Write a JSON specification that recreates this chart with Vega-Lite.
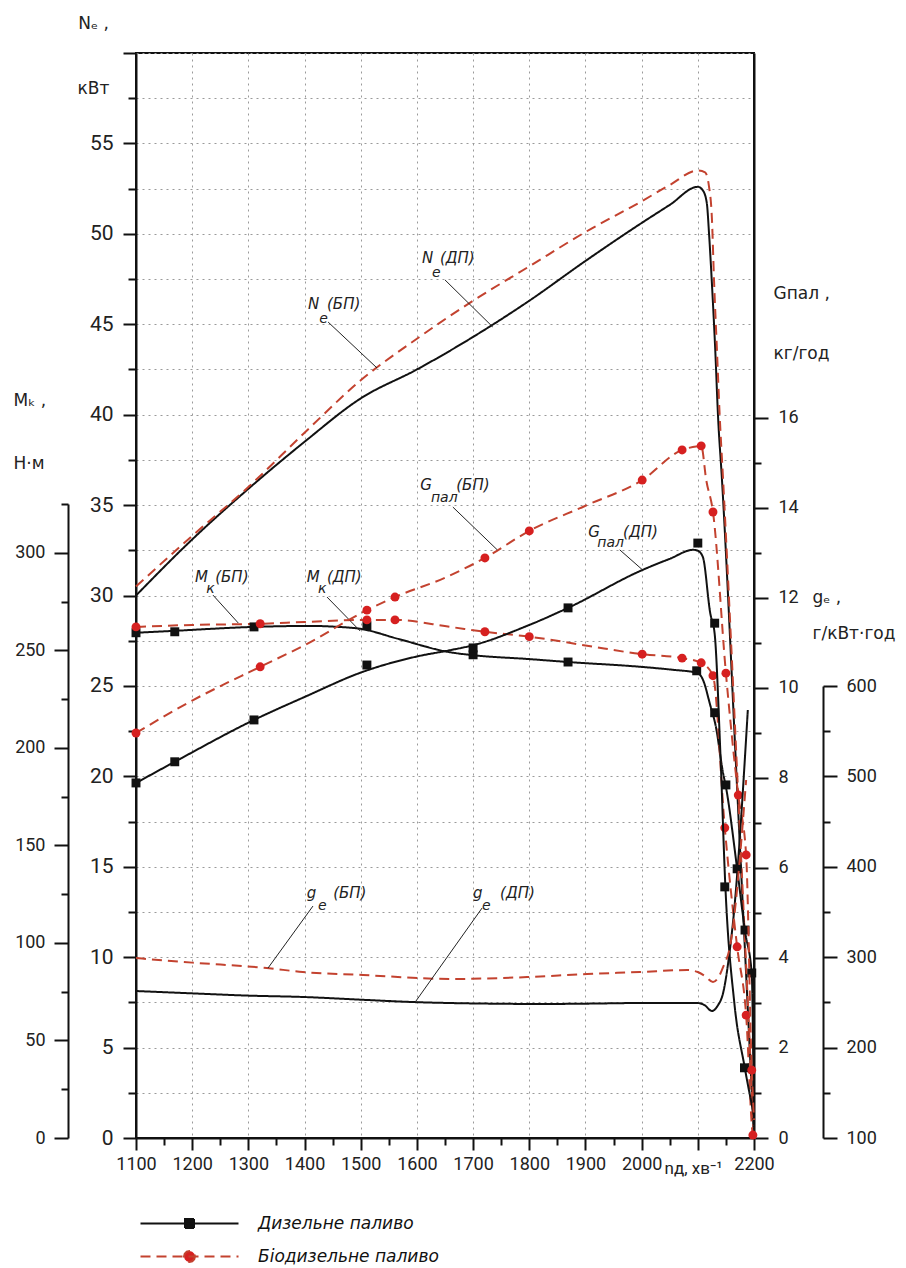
{
"$schema":"https://vega.github.io/schema/vega-lite/v6.json",
"width":618,"height":1085,
"autosize":{"type":"none"},
"padding":{"left":136,"top":53,"right":152,"bottom":130},
"background":"white",
"config":{
 "view":{"stroke":"#111","strokeWidth":2},
 "axis":{"domainColor":"#111","domainWidth":2,"tickColor":"#111","tickWidth":2,"labelFont":"Roboto","labelColor":"#222","labelOverlap":false,"labelFlush":false,"labelBound":false,"titleFont":"DejaVu Sans","titleFontWeight":"normal","titleColor":"#222","gridColor":"#9a9a9a","gridDash":[2,4],"gridWidth":1,"format":"d"}
},
"datasets":{
 "dummy":[{"fuel":"Дизельне паливо","rpm":1100,"v":0},{"fuel":"Біодизельне паливо","rpm":1100,"v":0}],
 "ne":[
  {"fuel":"Дизельне паливо","rpm":1100,"v":30.0},{"fuel":"Дизельне паливо","rpm":1200,"v":33.1},{"fuel":"Дизельне паливо","rpm":1300,"v":35.9},{"fuel":"Дизельне паливо","rpm":1400,"v":38.5},{"fuel":"Дизельне паливо","rpm":1500,"v":40.9},{"fuel":"Дизельне паливо","rpm":1600,"v":42.5},{"fuel":"Дизельне паливо","rpm":1700,"v":44.3},{"fuel":"Дизельне паливо","rpm":1800,"v":46.3},{"fuel":"Дизельне паливо","rpm":1900,"v":48.5},{"fuel":"Дизельне паливо","rpm":2000,"v":50.6},{"fuel":"Дизельне паливо","rpm":2050,"v":51.6},{"fuel":"Дизельне паливо","rpm":2100,"v":52.6},{"fuel":"Дизельне паливо","rpm":2109,"v":52.4},{"fuel":"Дизельне паливо","rpm":2116,"v":51.7},{"fuel":"Дизельне паливо","rpm":2120,"v":50.0},{"fuel":"Дизельне паливо","rpm":2125,"v":47.3},{"fuel":"Дизельне паливо","rpm":2131,"v":43.6},{"fuel":"Дизельне паливо","rpm":2136,"v":39.9},{"fuel":"Дизельне паливо","rpm":2143,"v":36.4},{"fuel":"Дизельне паливо","rpm":2170,"v":19.3},{"fuel":"Дизельне паливо","rpm":2200,"v":0},
  {"fuel":"Біодизельне паливо","rpm":1100,"v":30.5},{"fuel":"Біодизельне паливо","rpm":1200,"v":33.3},{"fuel":"Біодизельне паливо","rpm":1300,"v":36.0},{"fuel":"Біодизельне паливо","rpm":1400,"v":39.0},{"fuel":"Біодизельне паливо","rpm":1500,"v":41.9},{"fuel":"Біодизельне паливо","rpm":1600,"v":44.2},{"fuel":"Біодизельне паливо","rpm":1700,"v":46.3},{"fuel":"Біодизельне паливо","rpm":1800,"v":48.2},{"fuel":"Біодизельне паливо","rpm":1900,"v":50.1},{"fuel":"Біодизельне паливо","rpm":2000,"v":51.8},{"fuel":"Біодизельне паливо","rpm":2050,"v":52.7},{"fuel":"Біодизельне паливо","rpm":2100,"v":53.5},{"fuel":"Біодизельне паливо","rpm":2113,"v":53.4},{"fuel":"Біодизельне паливо","rpm":2120,"v":52.6},{"fuel":"Біодизельне паливо","rpm":2125,"v":50.9},{"fuel":"Біодизельне паливо","rpm":2129,"v":47.3},{"fuel":"Біодизельне паливо","rpm":2134,"v":43.6},{"fuel":"Біодизельне паливо","rpm":2139,"v":39.9},{"fuel":"Біодизельне паливо","rpm":2145,"v":36.4},{"fuel":"Біодизельне паливо","rpm":2172,"v":18.9},{"fuel":"Біодизельне паливо","rpm":2200,"v":0}
 ],
 "mk":[
  {"fuel":"Дизельне паливо","rpm":1100,"v":259},{"fuel":"Дизельне паливо","rpm":1169,"v":260},{"fuel":"Дизельне паливо","rpm":1310,"v":262},{"fuel":"Дизельне паливо","rpm":1410,"v":262.5},{"fuel":"Дизельне паливо","rpm":1460,"v":262},{"fuel":"Дизельне паливо","rpm":1500,"v":261},{"fuel":"Дизельне паливо","rpm":1565,"v":256},{"fuel":"Дизельне паливо","rpm":1659,"v":249},{"fuel":"Дизельне паливо","rpm":1700,"v":247.5},{"fuel":"Дизельне паливо","rpm":1800,"v":245.5},{"fuel":"Дизельне паливо","rpm":1869,"v":244},{"fuel":"Дизельне паливо","rpm":2000,"v":241.5},{"fuel":"Дизельне паливо","rpm":2056,"v":240},{"fuel":"Дизельне паливо","rpm":2098,"v":238.5},{"fuel":"Дизельне паливо","rpm":2109,"v":235},{"fuel":"Дизельне паливо","rpm":2122,"v":222},{"fuel":"Дизельне паливо","rpm":2132,"v":211},{"fuel":"Дизельне паливо","rpm":2145,"v":187},{"fuel":"Дизельне паливо","rpm":2150,"v":180},{"fuel":"Дизельне паливо","rpm":2170,"v":138},{"fuel":"Дизельне паливо","rpm":2184,"v":106},{"fuel":"Дизельне паливо","rpm":2196,"v":84},{"fuel":"Дизельне паливо","rpm":2200,"v":0},
  {"fuel":"Біодизельне паливо","rpm":1100,"v":262},{"fuel":"Біодизельне паливо","rpm":1200,"v":263},{"fuel":"Біодизельне паливо","rpm":1321,"v":263.6},{"fuel":"Біодизельне паливо","rpm":1400,"v":264.5},{"fuel":"Біодизельне паливо","rpm":1511,"v":265.6},{"fuel":"Біодизельне паливо","rpm":1561,"v":265.6},{"fuel":"Біодизельне паливо","rpm":1659,"v":262},{"fuel":"Біодизельне паливо","rpm":1721,"v":259.5},{"fuel":"Біодизельне паливо","rpm":1800,"v":257},{"fuel":"Біодизельне паливо","rpm":1900,"v":252.5},{"fuel":"Біодизельне паливо","rpm":2001,"v":248},{"fuel":"Біодизельне паливо","rpm":2072,"v":246},{"fuel":"Біодизельне паливо","rpm":2106,"v":243.6},{"fuel":"Біодизельне паливо","rpm":2127,"v":237},{"fuel":"Біодизельне паливо","rpm":2148,"v":159},{"fuel":"Біодизельне паливо","rpm":2170,"v":98},{"fuel":"Біодизельне паливо","rpm":2186,"v":63},{"fuel":"Біодизельне паливо","rpm":2198,"v":1.5},{"fuel":"Біодизельне паливо","rpm":2200,"v":0}
 ],
 "mkp":[
  {"fuel":"Дизельне паливо","rpm":1100,"v":259},{"fuel":"Дизельне паливо","rpm":1169,"v":259.5},{"fuel":"Дизельне паливо","rpm":1310,"v":262},{"fuel":"Дизельне паливо","rpm":1511,"v":262.6},{"fuel":"Дизельне паливо","rpm":1700,"v":247.7},{"fuel":"Дизельне паливо","rpm":1869,"v":244},{"fuel":"Дизельне паливо","rpm":2098,"v":239.5},{"fuel":"Дизельне паливо","rpm":2130,"v":218},{"fuel":"Дизельне паливо","rpm":2150,"v":181},{"fuel":"Дизельне паливо","rpm":2170,"v":138},{"fuel":"Дизельне паливо","rpm":2184,"v":106.6},{"fuel":"Дизельне паливо","rpm":2196,"v":84.6},
  {"fuel":"Біодизельне паливо","rpm":1100,"v":262},{"fuel":"Біодизельне паливо","rpm":1321,"v":263.6},{"fuel":"Біодизельне паливо","rpm":1511,"v":265.6},{"fuel":"Біодизельне паливо","rpm":1561,"v":265.6},{"fuel":"Біодизельне паливо","rpm":1721,"v":259.5},{"fuel":"Біодизельне паливо","rpm":1800,"v":257},{"fuel":"Біодизельне паливо","rpm":2001,"v":248},{"fuel":"Біодизельне паливо","rpm":2072,"v":246},{"fuel":"Біодизельне паливо","rpm":2106,"v":243.6},{"fuel":"Біодизельне паливо","rpm":2127,"v":237},{"fuel":"Біодизельне паливо","rpm":2148,"v":159},{"fuel":"Біодизельне паливо","rpm":2170,"v":98},{"fuel":"Біодизельне паливо","rpm":2186,"v":63},{"fuel":"Біодизельне паливо","rpm":2198,"v":1.5}
 ],
 "g":[
  {"fuel":"Дизельне паливо","rpm":1100,"v":7.89},{"fuel":"Дизельне паливо","rpm":1169,"v":8.36},{"fuel":"Дизельне паливо","rpm":1310,"v":9.29},{"fuel":"Дизельне паливо","rpm":1400,"v":9.8},{"fuel":"Дизельне паливо","rpm":1504,"v":10.36},{"fuel":"Дизельне паливо","rpm":1600,"v":10.7},{"fuel":"Дизельне паливо","rpm":1659,"v":10.84},{"fuel":"Дизельне паливо","rpm":1700,"v":10.95},{"fuel":"Дизельне паливо","rpm":1800,"v":11.4},{"fuel":"Дизельне паливо","rpm":1869,"v":11.78},{"fuel":"Дизельне паливо","rpm":2001,"v":12.62},{"fuel":"Дизельне паливо","rpm":2050,"v":12.87},{"fuel":"Дизельне паливо","rpm":2092,"v":13.07},{"fuel":"Дизельне паливо","rpm":2100,"v":13.05},{"fuel":"Дизельне паливо","rpm":2109,"v":12.91},{"fuel":"Дизельне паливо","rpm":2122,"v":11.67},{"fuel":"Дизельне паливо","rpm":2130,"v":11.2},{"fuel":"Дизельне паливо","rpm":2140,"v":8.6},{"fuel":"Дизельне паливо","rpm":2149,"v":5.6},{"fuel":"Дизельне паливо","rpm":2165,"v":3.0},{"fuel":"Дизельне паливо","rpm":2183,"v":1.6},{"fuel":"Дизельне паливо","rpm":2200,"v":0.5},
  {"fuel":"Біодизельне паливо","rpm":1100,"v":9.0},{"fuel":"Біодизельне паливо","rpm":1200,"v":9.72},{"fuel":"Біодизельне паливо","rpm":1321,"v":10.47},{"fuel":"Біодизельне паливо","rpm":1400,"v":10.95},{"fuel":"Біодизельне паливо","rpm":1511,"v":11.73},{"fuel":"Біодизельне паливо","rpm":1561,"v":12.02},{"fuel":"Біодизельне паливо","rpm":1650,"v":12.45},{"fuel":"Біодизельне паливо","rpm":1721,"v":12.89},{"fuel":"Біодизельне паливо","rpm":1800,"v":13.49},{"fuel":"Біодизельне паливо","rpm":1900,"v":14.05},{"fuel":"Біодизельне паливо","rpm":2001,"v":14.62},{"fuel":"Біодизельне паливо","rpm":2072,"v":15.29},{"fuel":"Біодизельне паливо","rpm":2100,"v":15.37},{"fuel":"Біодизельне паливо","rpm":2106,"v":15.38},{"fuel":"Біодизельне паливо","rpm":2115,"v":14.62},{"fuel":"Біодизельне паливо","rpm":2127,"v":13.91},{"fuel":"Біодизельне паливо","rpm":2150,"v":10.33},{"fuel":"Біодизельне паливо","rpm":2172,"v":7.62},{"fuel":"Біодизельне паливо","rpm":2186,"v":6.29},{"fuel":"Біодизельне паливо","rpm":2196,"v":1.51},{"fuel":"Біодизельне паливо","rpm":2200,"v":0.4}
 ],
 "gp":[
  {"fuel":"Дизельне паливо","rpm":1100,"v":7.89},{"fuel":"Дизельне паливо","rpm":1169,"v":8.36},{"fuel":"Дизельне паливо","rpm":1310,"v":9.29},{"fuel":"Дизельне паливо","rpm":1511,"v":10.51},{"fuel":"Дизельне паливо","rpm":1700,"v":10.89},{"fuel":"Дизельне паливо","rpm":1869,"v":11.78},{"fuel":"Дизельне паливо","rpm":2100,"v":13.22},{"fuel":"Дизельне паливо","rpm":2130,"v":11.44},{"fuel":"Дизельне паливо","rpm":2148,"v":5.58},{"fuel":"Дизельне паливо","rpm":2183,"v":1.56},
  {"fuel":"Біодизельне паливо","rpm":1100,"v":9.0},{"fuel":"Біодизельне паливо","rpm":1321,"v":10.47},{"fuel":"Біодизельне паливо","rpm":1511,"v":11.73},{"fuel":"Біодизельне паливо","rpm":1561,"v":12.02},{"fuel":"Біодизельне паливо","rpm":1721,"v":12.89},{"fuel":"Біодизельне паливо","rpm":1800,"v":13.49},{"fuel":"Біодизельне паливо","rpm":2001,"v":14.62},{"fuel":"Біодизельне паливо","rpm":2072,"v":15.29},{"fuel":"Біодизельне паливо","rpm":2106,"v":15.38},{"fuel":"Біодизельне паливо","rpm":2127,"v":13.91},{"fuel":"Біодизельне паливо","rpm":2150,"v":10.33},{"fuel":"Біодизельне паливо","rpm":2172,"v":7.62},{"fuel":"Біодизельне паливо","rpm":2186,"v":6.29},{"fuel":"Біодизельне паливо","rpm":2196,"v":1.51}
 ],
 "ge":[
  {"fuel":"Дизельне паливо","rpm":1100,"v":262.6},{"fuel":"Дизельне паливо","rpm":1200,"v":260},{"fuel":"Дизельне паливо","rpm":1300,"v":257.5},{"fuel":"Дизельне паливо","rpm":1397,"v":256},{"fuel":"Дизельне паливо","rpm":1500,"v":253},{"fuel":"Дизельне паливо","rpm":1593,"v":250.4},{"fuel":"Дизельне паливо","rpm":1659,"v":249.3},{"fuel":"Дизельне паливо","rpm":1750,"v":248.5},{"fuel":"Дизельне паливо","rpm":1819,"v":248.2},{"fuel":"Дизельне паливо","rpm":1900,"v":248.6},{"fuel":"Дизельне паливо","rpm":1997,"v":249.3},{"fuel":"Дизельне паливо","rpm":2099,"v":249.3},{"fuel":"Дизельне паливо","rpm":2112,"v":247},{"fuel":"Дизельне паливо","rpm":2125,"v":240.5},{"fuel":"Дизельне паливо","rpm":2135,"v":246},{"fuel":"Дизельне паливо","rpm":2145,"v":260.4},{"fuel":"Дизельне паливо","rpm":2157,"v":308},{"fuel":"Дизельне паливо","rpm":2163,"v":341},{"fuel":"Дизельне паливо","rpm":2189,"v":573.5},
  {"fuel":"Біодизельне паливо","rpm":1100,"v":299},{"fuel":"Біодизельне паливо","rpm":1200,"v":294},{"fuel":"Біодизельне паливо","rpm":1333,"v":288},{"fuel":"Біодизельне паливо","rpm":1397,"v":283.6},{"fuel":"Біодизельне паливо","rpm":1504,"v":280.3},{"fuel":"Біодизельне паливо","rpm":1659,"v":275.9},{"fuel":"Біодизельне паливо","rpm":1796,"v":278},{"fuel":"Біодизельне паливо","rpm":1903,"v":281.4},{"fuel":"Біодизельне паливо","rpm":1997,"v":283.6},{"fuel":"Біодизельне паливо","rpm":2081,"v":285.8},{"fuel":"Біодизельне паливо","rpm":2100,"v":283.6},{"fuel":"Біодизельне паливо","rpm":2113,"v":279},{"fuel":"Біодизельне паливо","rpm":2127,"v":272.6},{"fuel":"Біодизельне паливо","rpm":2137,"v":278},{"fuel":"Біодизельне паливо","rpm":2145,"v":289},{"fuel":"Біодизельне паливо","rpm":2157,"v":311},{"fuel":"Біодизельне паливо","rpm":2186,"v":496}
 ],
 "lbl":[
  {"p":"Ne","k":"m","rpm":1609,"v":48.39,"t":"N"},{"p":"Ne","k":"m","rpm":1641,"v":48.39,"t":"(ДП)"},{"p":"Ne","k":"s","rpm":1627,"v":47.6,"t":"e"},
  {"p":"Ne","k":"m","rpm":1406,"v":45.84,"t":"N"},{"p":"Ne","k":"m","rpm":1440,"v":45.84,"t":"(БП)"},{"p":"Ne","k":"s","rpm":1426,"v":45.07,"t":"e"},
  {"p":"Mk","k":"m","rpm":1205,"v":285,"t":"M"},{"p":"Mk","k":"m","rpm":1241,"v":285,"t":"(БП)"},{"p":"Mk","k":"s","rpm":1225,"v":279.4,"t":"к"},
  {"p":"Mk","k":"m","rpm":1404,"v":285,"t":"M"},{"p":"Mk","k":"m","rpm":1440,"v":285,"t":"(ДП)"},{"p":"Mk","k":"s","rpm":1424,"v":279.4,"t":"к"},
  {"p":"G","k":"m","rpm":1606,"v":14.4,"t":"G"},{"p":"G","k":"m","rpm":1670,"v":14.4,"t":"(БП)"},{"p":"G","k":"s","rpm":1625,"v":14.13,"t":"пал"},
  {"p":"G","k":"m","rpm":1905,"v":13.36,"t":"G"},{"p":"G","k":"m","rpm":1967,"v":13.36,"t":"(ДП)"},{"p":"G","k":"s","rpm":1921,"v":13.13,"t":"пал"},
  {"p":"ge","k":"m","rpm":1404,"v":365.5,"t":"g"},{"p":"ge","k":"m","rpm":1451,"v":365.5,"t":"(БП)"},{"p":"ge","k":"s","rpm":1424,"v":352.2,"t":"e"},
  {"p":"ge","k":"m","rpm":1700,"v":365.5,"t":"g"},{"p":"ge","k":"m","rpm":1748,"v":365.5,"t":"(ДП)"},{"p":"ge","k":"s","rpm":1716,"v":352.2,"t":"e"}
 ],
 "lead":[
  {"p":"Ne","rpm":1650,"v":47.45,"rpm2":1735,"v2":44.85},{"p":"Ne","rpm":1442,"v":45.12,"rpm2":1529,"v2":42.58},
  {"p":"Mk","rpm":1237,"v":278.3,"rpm2":1282,"v2":264},{"p":"Mk","rpm":1440,"v":277.3,"rpm2":1499,"v2":259.9},
  {"p":"G","rpm":1664,"v":14.02,"rpm2":1743,"v2":13.07},{"p":"G","rpm":1961,"v":13.07,"rpm2":2002,"v2":12.62},
  {"p":"ge","rpm":1415,"v":356.6,"rpm2":1335,"v2":288},{"p":"ge","rpm":1716,"v":354.4,"rpm2":1597,"v2":250.4}
 ]
},
"encoding":{
 "x":{"field":"rpm","type":"quantitative","scale":{"domain":[1100,2200],"nice":false,"zero":false},
  "axis":{"values":[1100,1150,1200,1250,1300,1350,1400,1450,1500,1550,1600,1650,1700,1750,1800,1850,1900,1950,2000,2050,2100,2150,2200],
   "labelExpr":"datum.value % 100 === 0 && datum.value !== 2100 ? datum.label : ''",
   "tickSize":{"condition":{"test":"datum.value % 100 === 0","value":12},"value":7},
   "labelPadding":5,"labelFontSize":18,
   "grid":true,"gridOpacity":{"condition":{"test":"datum.value % 100 === 0","value":1},"value":0},
   "title":"nд, хв⁻¹","titleFont":"Roboto","titleFontSize":17,"titleX":557,"titleY":35,"titleAlign":"center","titleBaseline":"alphabetic"}}
},
"layer":[
 {
  "encoding":{"y":{"field":"v","type":"quantitative","scale":{"domain":[0,60],"nice":false},
   "axis":{"orient":"left","values":[0,2.5,5,7.5,10,12.5,15,17.5,20,22.5,25,27.5,30,32.5,35,37.5,40,42.5,45,47.5,50,52.5,55,57.5,60],
    "labelExpr":"datum.value % 5 === 0 && datum.value < 60 ? datum.label : ''",
    "tickSize":{"condition":{"test":"datum.value % 5 === 0","value":13},"value":8},
    "labelPadding":10,"labelFontSize":21,"grid":true,
    "title":["Nₑ ,","кВт"],"titleFontSize":17,"titleAngle":0,"titleX":-43,"titleY":-25,"titleAlign":"center","titleBaseline":"alphabetic","titleLineHeight":65}}},
  "layer":[
   {"data":{"name":"ne"},"mark":{"type":"line","interpolate":"monotone","strokeWidth":2},
    "encoding":{
     "stroke":{"field":"fuel","type":"nominal","scale":{"domain":["Дизельне паливо","Біодизельне паливо"],"range":["#111111","#c3422f"]},
      "legend":{"orient":"none","legendX":45,"legendY":1162,"title":null,"direction":"vertical","labelFont":"DejaVu Sans","labelFontStyle":"italic","labelFontSize":17,"labelColor":"#111","labelLimit":400,"symbolSize":100,"symbolStrokeWidth":2,"symbolOpacity":1,"labelOffset":60,"rowPadding":15}},
     "strokeDash":{"field":"fuel","type":"nominal","scale":{"domain":["Дизельне паливо","Біодизельне паливо"],"range":[[1,0],[10,6]]},
      "legend":{"orient":"none","legendX":45,"legendY":1162,"title":null,"direction":"vertical","labelFont":"DejaVu Sans","labelFontStyle":"italic","labelFontSize":17,"labelColor":"#111","labelLimit":400,"symbolSize":100,"symbolStrokeWidth":2,"symbolOpacity":1,"labelOffset":60,"rowPadding":15}}}},
   {"data":{"name":"dummy"},"mark":{"type":"point","filled":true},
    "encoding":{"opacity":{"value":0},
     "shape":{"field":"fuel","type":"nominal","scale":{"domain":["Дизельне паливо","Біодизельне паливо"],"range":["M-9.8,0L9.8,0M-0.9,-0.9L0.9,-0.9L0.9,0.9L-0.9,0.9Z","M-9.8,0L9.8,0M1.1,0L0.953,0.55L0.55,0.953L0,1.1L-0.55,0.953L-0.953,0.55L-1.1,0L-0.953,-0.55L-0.55,-0.953L0,-1.1L0.55,-0.953L0.953,-0.55Z"]},
      "legend":{"orient":"none","legendX":45,"legendY":1162,"title":null,"direction":"vertical","labelFont":"DejaVu Sans","labelFontStyle":"italic","labelFontSize":17,"labelColor":"#111","labelLimit":400,"symbolSize":100,"symbolStrokeWidth":2,"symbolOpacity":1,"labelOffset":60,"rowPadding":15}},
     "fill":{"field":"fuel","type":"nominal","scale":{"domain":["Дизельне паливо","Біодизельне паливо"],"range":["#111111","#d62020"]},
      "legend":{"orient":"none","legendX":45,"legendY":1162,"title":null,"direction":"vertical","labelFont":"DejaVu Sans","labelFontStyle":"italic","labelFontSize":17,"labelColor":"#111","labelLimit":400,"symbolSize":100,"symbolStrokeWidth":2,"symbolOpacity":1,"labelOffset":60,"rowPadding":15}}}},
   {"data":{"name":"lead"},"transform":[{"filter":"datum.p === 'Ne'"}],"mark":{"type":"rule","color":"#222","strokeWidth":1},"encoding":{"x2":{"field":"rpm2"},"y2":{"field":"v2"}}},
   {"data":{"name":"lbl"},"transform":[{"filter":"datum.p === 'Ne' && datum.k === 'm'"}],"mark":{"type":"text","align":"left","baseline":"alphabetic","font":"DejaVu Sans","fontStyle":"italic","fontSize":15,"color":"#222"},"encoding":{"text":{"field":"t"}}},
   {"data":{"name":"lbl"},"transform":[{"filter":"datum.p === 'Ne' && datum.k === 's'"}],"mark":{"type":"text","align":"left","baseline":"alphabetic","font":"DejaVu Sans","fontStyle":"italic","fontSize":14,"color":"#222"},"encoding":{"text":{"field":"t"}}}
  ]
 },
 {
  "encoding":{"y":{"field":"v","type":"quantitative","scale":{"domain":[0,325],"range":[1085,451],"nice":false},
   "axis":{"orient":"left","offset":68,"values":[0,25,50,75,100,125,150,175,200,225,250,275,300,325],
    "labelExpr":"datum.value % 50 === 0 ? datum.label : ''",
    "tickSize":{"condition":{"test":"datum.value % 50 === 0","value":14},"value":7},
    "labelPadding":9,"labelFontSize":18,"grid":false,
    "title":["Mₖ ,","Н·м"],"titleFontSize":17,"titleAngle":0,"titleX":-55,"titleY":352,"titleAlign":"left","titleBaseline":"alphabetic","titleLineHeight":63}}},
  "layer":[
   {"data":{"name":"mk"},"mark":{"type":"line","interpolate":"monotone","strokeWidth":2},
    "encoding":{
     "stroke":{"field":"fuel","type":"nominal","scale":{"domain":["Дизельне паливо","Біодизельне паливо"],"range":["#111111","#c3422f"]},
      "legend":{"orient":"none","legendX":45,"legendY":1162,"title":null,"direction":"vertical","labelFont":"DejaVu Sans","labelFontStyle":"italic","labelFontSize":17,"labelColor":"#111","labelLimit":400,"symbolSize":100,"symbolStrokeWidth":2,"symbolOpacity":1,"labelOffset":60,"rowPadding":15}},
     "strokeDash":{"field":"fuel","type":"nominal","scale":{"domain":["Дизельне паливо","Біодизельне паливо"],"range":[[1,0],[10,6]]},
      "legend":{"orient":"none","legendX":45,"legendY":1162,"title":null,"direction":"vertical","labelFont":"DejaVu Sans","labelFontStyle":"italic","labelFontSize":17,"labelColor":"#111","labelLimit":400,"symbolSize":100,"symbolStrokeWidth":2,"symbolOpacity":1,"labelOffset":60,"rowPadding":15}}}},
   {"data":{"name":"mkp"},"transform":[{"filter":"datum.fuel === 'Дизельне паливо'"}],"mark":{"type":"point","shape":"square","filled":true,"opacity":1,"size":80,"color":"#111111"}},
   {"data":{"name":"mkp"},"transform":[{"filter":"datum.fuel === 'Біодизельне паливо'"}],"mark":{"type":"point","shape":"circle","filled":true,"opacity":1,"size":80,"color":"#d62020"}},
   {"data":{"name":"lead"},"transform":[{"filter":"datum.p === 'Mk'"}],"mark":{"type":"rule","color":"#222","strokeWidth":1},"encoding":{"x2":{"field":"rpm2"},"y2":{"field":"v2"}}},
   {"data":{"name":"lbl"},"transform":[{"filter":"datum.p === 'Mk' && datum.k === 'm'"}],"mark":{"type":"text","align":"left","baseline":"alphabetic","font":"DejaVu Sans","fontStyle":"italic","fontSize":15,"color":"#222"},"encoding":{"text":{"field":"t"}}},
   {"data":{"name":"lbl"},"transform":[{"filter":"datum.p === 'Mk' && datum.k === 's'"}],"mark":{"type":"text","align":"left","baseline":"alphabetic","font":"DejaVu Sans","fontStyle":"italic","fontSize":14,"color":"#222"},"encoding":{"text":{"field":"t"}}}
  ]
 },
 {
  "encoding":{"y":{"field":"v","type":"quantitative","scale":{"domain":[0,24.11],"nice":false},
   "axis":{"orient":"right","values":[0,1,2,3,4,5,6,7,8,9,10,11,12,13,14,15,16],
    "labelExpr":"datum.value % 2 === 0 ? datum.label : ''",
    "tickSize":{"condition":{"test":"datum.value % 2 === 0","value":14},"value":7},
    "labelPadding":10,"labelFontSize":18,"grid":false,
    "title":["Gпал ,","кг/год"],"titleFontSize":17,"titleAngle":0,"titleX":19,"titleY":245,"titleAlign":"left","titleBaseline":"alphabetic","titleLineHeight":60}}},
  "layer":[
   {"data":{"name":"g"},"mark":{"type":"line","interpolate":"monotone","strokeWidth":2},
    "encoding":{
     "stroke":{"field":"fuel","type":"nominal","scale":{"domain":["Дизельне паливо","Біодизельне паливо"],"range":["#111111","#c3422f"]},
      "legend":{"orient":"none","legendX":45,"legendY":1162,"title":null,"direction":"vertical","labelFont":"DejaVu Sans","labelFontStyle":"italic","labelFontSize":17,"labelColor":"#111","labelLimit":400,"symbolSize":100,"symbolStrokeWidth":2,"symbolOpacity":1,"labelOffset":60,"rowPadding":15}},
     "strokeDash":{"field":"fuel","type":"nominal","scale":{"domain":["Дизельне паливо","Біодизельне паливо"],"range":[[1,0],[10,6]]},
      "legend":{"orient":"none","legendX":45,"legendY":1162,"title":null,"direction":"vertical","labelFont":"DejaVu Sans","labelFontStyle":"italic","labelFontSize":17,"labelColor":"#111","labelLimit":400,"symbolSize":100,"symbolStrokeWidth":2,"symbolOpacity":1,"labelOffset":60,"rowPadding":15}}}},
   {"data":{"name":"gp"},"transform":[{"filter":"datum.fuel === 'Дизельне паливо'"}],"mark":{"type":"point","shape":"square","filled":true,"opacity":1,"size":80,"color":"#111111"}},
   {"data":{"name":"gp"},"transform":[{"filter":"datum.fuel === 'Біодизельне паливо'"}],"mark":{"type":"point","shape":"circle","filled":true,"opacity":1,"size":80,"color":"#d62020"}},
   {"data":{"name":"lead"},"transform":[{"filter":"datum.p === 'G'"}],"mark":{"type":"rule","color":"#222","strokeWidth":1},"encoding":{"x2":{"field":"rpm2"},"y2":{"field":"v2"}}},
   {"data":{"name":"lbl"},"transform":[{"filter":"datum.p === 'G' && datum.k === 'm'"}],"mark":{"type":"text","align":"left","baseline":"alphabetic","font":"DejaVu Sans","fontStyle":"italic","fontSize":15,"color":"#222"},"encoding":{"text":{"field":"t"}}},
   {"data":{"name":"lbl"},"transform":[{"filter":"datum.p === 'G' && datum.k === 's'"}],"mark":{"type":"text","align":"left","baseline":"alphabetic","font":"DejaVu Sans","fontStyle":"italic","fontSize":14,"color":"#222"},"encoding":{"text":{"field":"t"}}}
  ]
 },
 {
  "encoding":{"y":{"field":"v","type":"quantitative","scale":{"domain":[100,600],"range":[1085,633],"nice":false,"zero":false},
   "axis":{"orient":"right","offset":69,"values":[100,150,200,250,300,350,400,450,500,550,600],
    "labelExpr":"datum.value % 100 === 0 ? datum.label : ''",
    "tickSize":{"condition":{"test":"datum.value % 100 === 0","value":14},"value":7},
    "labelPadding":9,"labelFontSize":18,"grid":false,
    "title":["gₑ ,","г/кВт·год"],"titleFontSize":17,"titleAngle":0,"titleX":-11,"titleY":549,"titleAlign":"left","titleBaseline":"alphabetic","titleLineHeight":36}}},
  "layer":[
   {"data":{"name":"ge"},"mark":{"type":"line","interpolate":"monotone","strokeWidth":2},
    "encoding":{
     "stroke":{"field":"fuel","type":"nominal","scale":{"domain":["Дизельне паливо","Біодизельне паливо"],"range":["#111111","#c3422f"]},
      "legend":{"orient":"none","legendX":45,"legendY":1162,"title":null,"direction":"vertical","labelFont":"DejaVu Sans","labelFontStyle":"italic","labelFontSize":17,"labelColor":"#111","labelLimit":400,"symbolSize":100,"symbolStrokeWidth":2,"symbolOpacity":1,"labelOffset":60,"rowPadding":15}},
     "strokeDash":{"field":"fuel","type":"nominal","scale":{"domain":["Дизельне паливо","Біодизельне паливо"],"range":[[1,0],[10,6]]},
      "legend":{"orient":"none","legendX":45,"legendY":1162,"title":null,"direction":"vertical","labelFont":"DejaVu Sans","labelFontStyle":"italic","labelFontSize":17,"labelColor":"#111","labelLimit":400,"symbolSize":100,"symbolStrokeWidth":2,"symbolOpacity":1,"labelOffset":60,"rowPadding":15}}}},
   {"data":{"name":"lead"},"transform":[{"filter":"datum.p === 'ge'"}],"mark":{"type":"rule","color":"#222","strokeWidth":1},"encoding":{"x2":{"field":"rpm2"},"y2":{"field":"v2"}}},
   {"data":{"name":"lbl"},"transform":[{"filter":"datum.p === 'ge' && datum.k === 'm'"}],"mark":{"type":"text","align":"left","baseline":"alphabetic","font":"DejaVu Sans","fontStyle":"italic","fontSize":15,"color":"#222"},"encoding":{"text":{"field":"t"}}},
   {"data":{"name":"lbl"},"transform":[{"filter":"datum.p === 'ge' && datum.k === 's'"}],"mark":{"type":"text","align":"left","baseline":"alphabetic","font":"DejaVu Sans","fontStyle":"italic","fontSize":14,"color":"#222"},"encoding":{"text":{"field":"t"}}}
  ]
 }
],
"resolve":{"scale":{"y":"independent"}}
}
